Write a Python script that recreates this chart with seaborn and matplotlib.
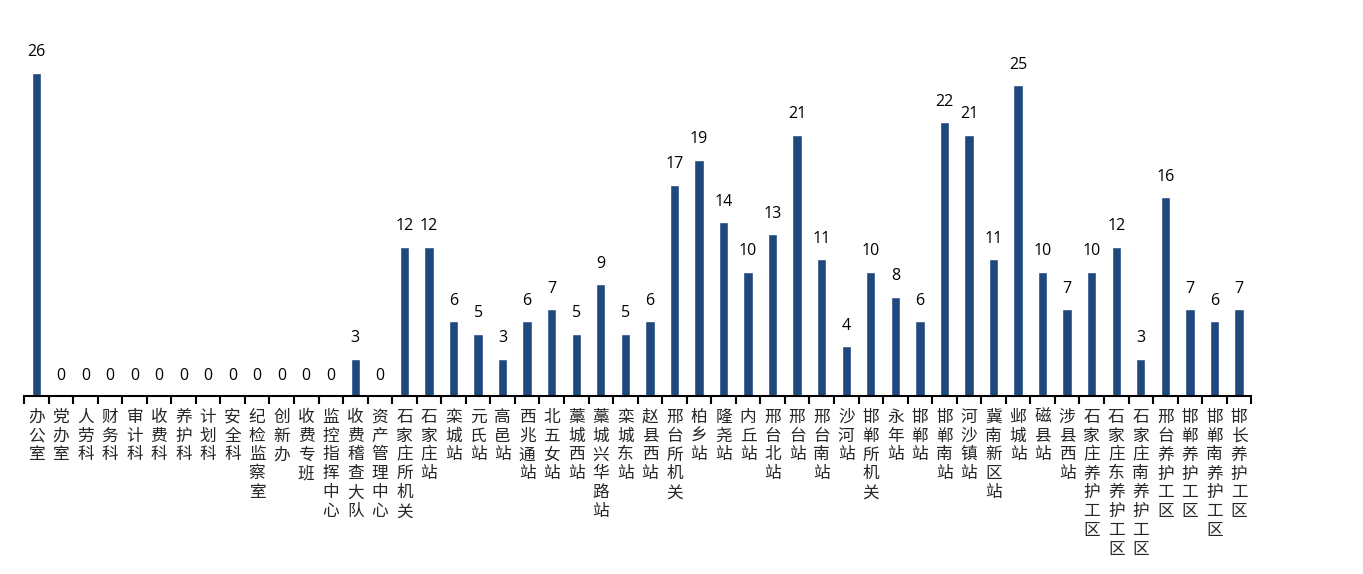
import pandas as pd
import numpy as np
import matplotlib.pyplot as plt
import seaborn as sns
from matplotlib.ticker import FixedLocator

# 数据
departments = ['办公室', '党办室', '人劳科', '财务科', '审计科', '收费科', '养护科', '计划科',
               '安全科', '纪检监察室', '创新办', '收费专班', '监控指挥中心', '收费稽查大队',
               '资产管理中心', '石家庄所机关', '石家庄站', '栾城站', '元氏站', '高邑站',
               '西兆通站', '北五女站', '藁城西站', '藁城兴华路站', '栾城东站', '赵县西站',
               '邢台所机关', '柏乡站', '隆尧站', '内丘站', '邢台北站', '邢台站', '邢台南站',
               '沙河站', '邯郸所机关', '永年站', '邯郸站', '邯郸南站', '河沙镇站', '冀南新区站',
               '邺城站', '磁县站', '涉县西站', '石家庄养护工区', '石家庄东养护工区',
               '石家庄南养护工区', '邢台养护工区', '邯郸养护工区', '邯郸南养护工区', '邯长养护工区']
counts = [26, 0, 0, 0, 0, 0, 0, 0, 0, 0, 0, 0, 0, 3, 0, 12, 12, 6, 5, 3,
          6, 7, 5, 9, 5, 6, 17, 19, 14, 10, 13, 21, 11, 4, 10, 8, 6, 22, 21, 11,
          25, 10, 7, 10, 12, 3, 16, 7, 6, 7]

sns.set_style('white')
plt.rcParams['font.family'] = ['Noto Sans CJK SC', 'DejaVu Sans']

df = pd.DataFrame({'部门': departments, '人数': counts})

fig = plt.figure(figsize=(13.63, 5.74), dpi=100)
ax = fig.add_axes([0.0176, 0.31, 0.9004, 0.65])

sns.barplot(data=df, x='部门', y='人数', color='#1F497D', width=0.38,
            saturation=1, ax=ax)

# 数值标签
for i, v in enumerate(counts):
    ax.text(i, v + 1.0, str(v), ha='center', va='bottom', fontsize=11.5,
            family='Open Sans', color='#000000')

ax.set_xlim(-0.5, len(departments) - 0.5)
ax.set_ylim(0, 30)

# 竖排标签
ax.set_xticks(range(len(departments)))
ax.set_xticklabels(['\n'.join(d) for d in departments], fontsize=12,
                   linespacing=1.15, va='top')
ax.tick_params(axis='x', which='major', length=0, pad=9)
ax.xaxis.set_minor_locator(FixedLocator(np.arange(-0.5, len(departments), 1)))
ax.tick_params(axis='x', which='minor', length=6, width=1.5, color='black',
               direction='out', bottom=True)

ax.set_yticks([])
ax.set_xlabel('')
ax.set_ylabel('')
for s in ['top', 'right', 'left']:
    ax.spines[s].set_visible(False)
ax.spines['bottom'].set_color('black')
ax.spines['bottom'].set_linewidth(1.5)

fig.savefig('out.png', dpi=100)
